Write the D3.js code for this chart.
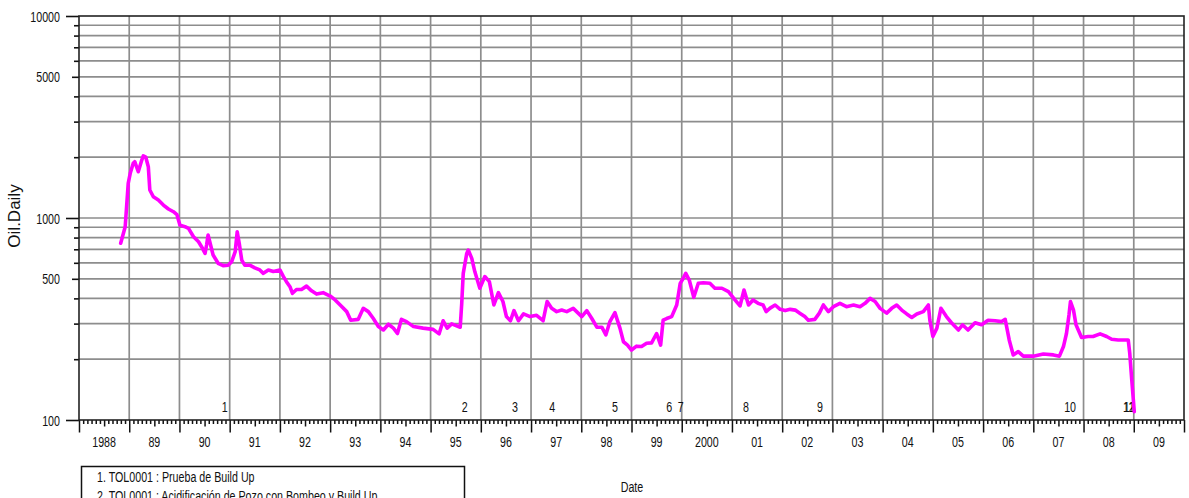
<!DOCTYPE html>
<html>
<head>
<meta charset="utf-8">
<script src="https://cdn.jsdelivr.net/npm/d3@7"></script>
<style>
  html, body { margin: 0; padding: 0; background: #fff; overflow: hidden; }
  svg { display: block; }
  text { font-family: "Liberation Sans", Arial, sans-serif; fill: #111; }
</style>
</head>
<body>
<svg id="chart" width="1189" height="498"></svg>
<script>
// Production history (decimal year, daily oil rate)
const sampleYears = [
  1988.83, 1988.92, 1988.98, 1989.02, 1989.08, 1989.11, 1989.18, 1989.25, 1989.28, 1989.33,
  1989.38, 1989.41, 1989.48, 1989.58, 1989.68, 1989.78, 1989.88, 1989.95, 1990.01, 1990.11,
  1990.18, 1990.28, 1990.38, 1990.44, 1990.51, 1990.54, 1990.57, 1990.62, 1990.67, 1990.77,
  1990.87, 1990.97, 1991.04, 1991.11, 1991.15, 1991.19, 1991.24, 1991.30, 1991.40, 1991.50,
  1991.60, 1991.67, 1991.77, 1991.87, 1992.00, 1992.07, 1992.13, 1992.20, 1992.25, 1992.33,
  1992.43, 1992.53, 1992.63, 1992.73, 1992.86, 1993.00, 1993.10, 1993.20, 1993.33, 1993.41,
  1993.56, 1993.66, 1993.76, 1993.86, 1993.96, 1994.06, 1994.16, 1994.26, 1994.34, 1994.42,
  1994.52, 1994.66, 1994.85, 1995.05, 1995.17, 1995.25, 1995.33, 1995.42, 1995.59, 1995.62,
  1995.65, 1995.72, 1995.75, 1995.82, 1995.88, 1995.98, 1996.08, 1996.17, 1996.26, 1996.35,
  1996.44, 1996.51, 1996.59, 1996.66, 1996.75, 1996.85, 1996.98, 1997.11, 1997.24, 1997.32,
  1997.41, 1997.51, 1997.61, 1997.71, 1997.84, 1998.01, 1998.11, 1998.21, 1998.31, 1998.41,
  1998.49, 1998.57, 1998.67, 1998.77, 1998.84, 1998.92, 1999.00, 1999.10, 1999.20, 1999.30,
  1999.40, 1999.50, 1999.58, 1999.63, 1999.70, 1999.80, 1999.90, 1999.97, 2000.03, 2000.08,
  2000.15, 2000.24, 2000.33, 2000.43, 2000.56, 2000.66, 2000.80, 2000.93, 2001.06, 2001.16,
  2001.24, 2001.33, 2001.42, 2001.52, 2001.62, 2001.68, 2001.76, 2001.86, 2001.96, 2002.06,
  2002.16, 2002.26, 2002.35, 2002.45, 2002.52, 2002.65, 2002.74, 2002.82, 2002.92, 2003.02,
  2003.15, 2003.28, 2003.42, 2003.55, 2003.65, 2003.75, 2003.85, 2003.95, 2004.08, 2004.18,
  2004.28, 2004.38, 2004.48, 2004.58, 2004.68, 2004.81, 2004.91, 2004.94, 2005.00, 2005.08,
  2005.16, 2005.27, 2005.37, 2005.51, 2005.59, 2005.70, 2005.84, 2005.97, 2006.10, 2006.24,
  2006.37, 2006.44, 2006.52, 2006.60, 2006.70, 2006.80, 2007.00, 2007.20, 2007.40, 2007.52,
  2007.60, 2007.66, 2007.71, 2007.74, 2007.80, 2007.85, 2007.96, 2008.09, 2008.19, 2008.33,
  2008.46, 2008.56, 2008.69, 2008.89, 2008.92, 2008.96, 2009.01
];
const oilDaily = [
  750, 906, 1486, 1664, 1866, 1900, 1694, 1936, 2028, 2000,
  1795, 1376, 1274, 1227, 1159, 1108, 1074, 1038, 922, 906,
  889, 808, 763, 721, 668, 735, 824, 735, 656, 597,
  581, 584, 608, 681, 855, 750, 619, 584, 584, 567,
  553, 532, 553, 543, 553, 513, 484, 457, 424, 443,
  443, 460, 436, 420, 427, 411, 393, 371, 344, 312,
  315, 357, 344, 318, 290, 279, 298, 285, 268, 315,
  307, 290, 285, 281, 267, 310, 285, 299, 288, 378,
  532, 668, 694, 631, 543, 449, 513, 484, 371, 427,
  386, 325, 310, 348, 310, 335, 325, 330, 310, 386,
  357, 344, 350, 344, 357, 325, 348, 318, 288, 288,
  264, 307, 340, 285, 244, 235, 222, 232, 231, 240,
  241, 268, 235, 312, 318, 325, 371, 475, 503, 532,
  493, 405, 475, 478, 475, 449, 449, 432, 393, 367,
  440, 371, 393, 378, 371, 344, 358, 371, 353, 348,
  353, 350, 338, 325, 312, 315, 338, 371, 344, 364,
  378, 364, 371, 364, 378, 400, 386, 357, 338, 357,
  371, 350, 335, 322, 335, 344, 371, 312, 259, 285,
  357, 325, 303, 279, 296, 279, 303, 296, 312, 310,
  307, 315, 249, 210, 218, 207, 207, 212, 210, 207,
  231, 268, 331, 386, 350, 296, 256, 259, 259, 267,
  259, 251, 249, 249, 214, 158, 110
];

// Well events marked above the date axis
const eventYears  = [1990.96, 1995.74, 1996.74, 1997.48, 1998.73, 1999.81, 2000.04, 2001.34, 2002.81, 2007.85, 2009.02, 2009.02];
const eventLabels = ["1", "2", "3", "4", "5", "6", "7", "8", "9", "10", "11", "12"];

// Axis labels
const yearLabels = ["1988", "89", "90", "91", "92", "93", "94", "95", "96", "97", "98",
                    "99", "2000", "01", "02", "03", "04", "05", "06", "07", "08", "09"];
const yLabelValues = [100, 500, 1000, 5000, 10000];
const legendEntries = [
  "1. TOL0001 : Prueba de Build Up",
  "2. TOL0001 : Acidificación de Pozo con Bombeo y Build Up"
];

const svg = d3.select("#chart");
const plot = { left: 79, right: 1184, top: 16, bottom: 420 };
const firstYear = 1988, lastYear = 2010;
const SX = 0.69;            // horizontal glyph compression
const FONT = 15.5;

const x = d3.scaleLinear().domain([firstYear, lastYear]).range([plot.left, plot.right]);
const y = d3.scaleLog().domain([100, 10000]).range([plot.bottom, plot.top]);

function label(g, tx, ty, str, anchor, size) {
  return g.append("text")
    .attr("transform", `translate(${tx},${ty}) scale(${SX},1)`)
    .attr("text-anchor", anchor)
    .style("font-size", (size || FONT) + "px")
    .text(str);
}

// Grid
const grid = svg.append("g").attr("stroke", "#8d8d8d").attr("stroke-width", 1.7);
const logTicks = y.ticks().filter(v => v > 100 && v < 10000);
grid.selectAll("line.h").data(logTicks).join("line")
  .attr("x1", plot.left).attr("x2", plot.right)
  .attr("y1", d => y(d)).attr("y2", d => y(d));
const yearStarts = d3.range(firstYear + 1, lastYear);
grid.selectAll("line.v").data(yearStarts).join("line")
  .attr("y1", plot.top).attr("y2", plot.bottom)
  .attr("x1", d => x(d)).attr("x2", d => x(d));

// Y axis ticks (decades long, fives medium, rest short)
const allYTicks = y.ticks();
const leading = v => +String(v)[0];
const decadeTicks = allYTicks.filter(v => leading(v) === 1);
const fiveTicks = allYTicks.filter(v => leading(v) === 5);
const minorTicks = allYTicks.filter(v => leading(v) !== 1 && leading(v) !== 5);
[[decadeTicks, 13], [fiveTicks, 7], [minorTicks, 5]].forEach(([vals, size]) => {
  const g = svg.append("g").attr("transform", `translate(${plot.left},0)`)
    .call(d3.axisLeft(y).tickValues(vals).tickSize(size).tickSizeOuter(0).tickFormat(""));
  g.select(".domain").remove();
  g.selectAll("line").attr("stroke", "#111").attr("stroke-width", 1.6);
});
yLabelValues.forEach(v => label(svg, 60, y(v) + 5.5, String(v), "end"));

// X axis ticks (years, mid-year, months)
const monthTicks = d3.range(0, (lastYear - firstYear) * 12 + 1).map(i => firstYear + i / 12)
  .filter((d, i) => i % 6 !== 0);
const midTicks = d3.range(firstYear, lastYear).map(d => d + 0.5);
const yearTicks = d3.range(firstYear, lastYear + 1);
[[monthTicks, 4], [midTicks, 6.5], [yearTicks, 12.5]].forEach(([vals, size]) => {
  const g = svg.append("g").attr("transform", `translate(0,${plot.bottom})`)
    .call(d3.axisBottom(x).tickValues(vals).tickSize(size).tickSizeOuter(0).tickFormat(""));
  g.select(".domain").remove();
  g.selectAll("line").attr("stroke", "#111").attr("stroke-width", 1.5);
});
yearLabels.forEach((s, i) => label(svg, x(firstYear + i + 0.5), 447, s, "middle"));

// Frame
svg.append("rect")
  .attr("x", plot.left).attr("y", plot.top)
  .attr("width", plot.right - plot.left).attr("height", plot.bottom - plot.top)
  .attr("fill", "none").attr("stroke", "#222").attr("stroke-width", 1.6);

// Event markers
eventLabels.forEach((s, i) => label(svg, x(eventYears[i]), 412, s, "end"));

// Oil rate curve
const series = sampleYears.map((t, i) => ({ t, v: oilDaily[i] }));
svg.append("path")
  .datum(series)
  .attr("fill", "none")
  .attr("stroke", "#ff00ff")
  .attr("stroke-width", 3.6)
  .attr("stroke-linejoin", "round")
  .attr("stroke-linecap", "round")
  .attr("d", d3.line().x(d => x(d.t)).y(d => y(d.v)));

// Axis titles
label(svg, 632, 492, "Date", "middle");
svg.append("text")
  .attr("transform", "translate(20,216) rotate(-90)")
  .attr("text-anchor", "middle")
  .style("font-size", "17px")
  .text("Oil.Daily");

// Legend
const legend = svg.append("g");
legend.append("rect")
  .attr("x", 81.5).attr("y", 466.5).attr("width", 383).attr("height", 60)
  .attr("fill", "#fff").attr("stroke", "#111").attr("stroke-width", 1.5);
legendEntries.forEach((s, i) => label(legend, 97, 482 + i * 19, s, "start"));
</script>
</body>
</html>
